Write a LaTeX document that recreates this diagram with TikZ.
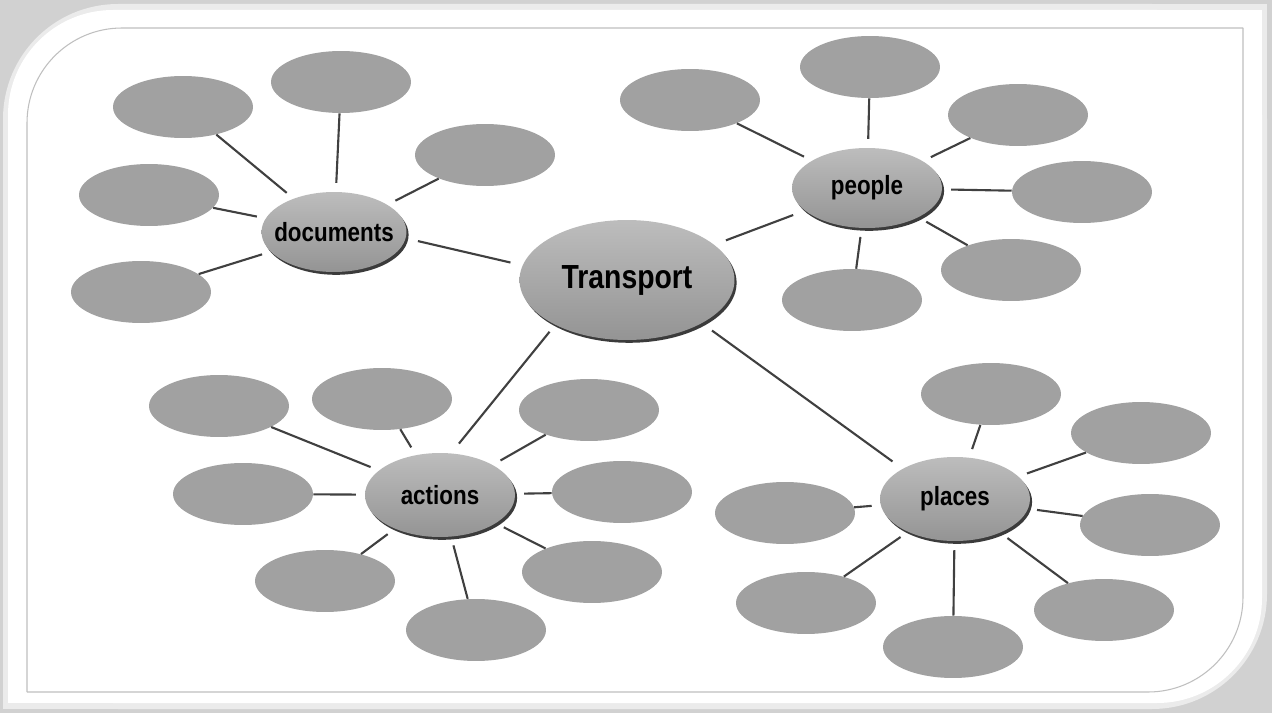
\documentclass[tikz,border=0pt]{standalone}
\usepackage{fontspec}
\setmainfont{Liberation Sans}[FakeStretch=0.85]
\usetikzlibrary{shapes.geometric,shadows}

\begin{document}
\begin{tikzpicture}[x=0.02cm,y=-0.02cm,
    leaf/.style={ellipse,fill=black!37,minimum width=2.8cm,minimum height=1.24cm,inner sep=0pt},
    hub/.style={ellipse,top color=black!26,bottom color=black!42,inner ysep=0pt,inner xsep=-8pt,
      drop shadow={shadow xshift=1.2pt,shadow yshift=-1.6pt,opacity=0.9,fill=black!85},
      font=\fontsize{15}{18}\selectfont\bfseries},
    link/.style={draw=black!75,line width=1.2pt}]
      % frame of the card
      \useasboundingbox (0,0) rectangle (1272,713);
      \fill[black!18] (0,0) rectangle (1272,713);
      \fill[black!8,rounded corners=2.3cm] (3,4) rectangle (1267,709);
      \fill[black!8] (1000,4) rectangle (1267,300);
      \fill[black!8] (3,400) rectangle (300,709);
      \fill[white,rounded corners=2.1cm] (8,10) rectangle (1262,703);
      \fill[white] (1000,10) rectangle (1262,300);
      \fill[white] (8,400) rectangle (300,703);
      \draw[black!25,line width=0.6pt,rounded corners=1.9cm] (27,692) -- (27,28) -- (1243,28);
      \draw[black!25,line width=0.6pt,rounded corners=1.9cm] (1243,28) -- (1243,692) -- (27,692);

      % centre and the four topics
      \node[hub,minimum width=4.3cm,minimum height=2.4cm,font=\fontsize{19}{22}\selectfont\bfseries] (transport) at (627,280) {Transport};
      \node[hub,minimum width=2.9cm,minimum height=1.6cm] (documents) at (334,232) {documents};
      \node[hub,minimum width=3cm,minimum height=1.6cm] (people) at (867,188) {people};
      \node[hub,minimum width=3cm,minimum height=1.68cm] (actions) at (440,495) {actions};
      \node[hub,minimum width=3cm,minimum height=1.68cm] (places) at (955,499) {places};

      % empty bubbles
      \foreach \n/\x/\y in {d1/183/107, d2/341/82, d3/485/155, d4/149/195, d5/141/292,
          p1/690/100, p2/870/67, p3/1018/115, p4/1082/192, p5/1011/270, p6/852/300,
          a1/219/406, a2/382/399, a3/589/410, a4/243/494, a5/622/492, a6/325/581, a7/592/572, a8/476/630,
          s1/991/394, s2/1141/433, s3/785/513, s4/1150/525, s5/806/603, s6/1104/610, s7/953/647}
        \node[leaf] (\n) at (\x,\y) {};

      % links to the topics
      \foreach \n in {d1,d2,d3,d4,d5} \draw[link,shorten >=5pt] (\n) -- (documents);
      \foreach \n in {p1,p2,p3,p4,p5,p6} \draw[link,shorten >=5pt] (\n) -- (people);
      \foreach \n in {a1,a2,a3,a4,a5,a6,a7,a8} \draw[link,shorten >=5pt] (\n) -- (actions);
      \foreach \n in {s1,s2,s3,s4,s5,s6,s7} \draw[link,shorten >=5pt] (\n) -- (places);

      % links to the centre
      \draw[link,shorten <=7pt,shorten >=7pt] (documents.355) -- (transport.172);
      \draw[link,shorten <=7pt,shorten >=7pt] (people.200) -- (transport.22);
      \draw[link,shorten <=5pt,shorten >=7pt] (transport.212) -- (actions.75);
      \draw[link,shorten <=7pt,shorten >=7pt] (transport.330) -- (places.150);
    \end{tikzpicture}
\end{document}
